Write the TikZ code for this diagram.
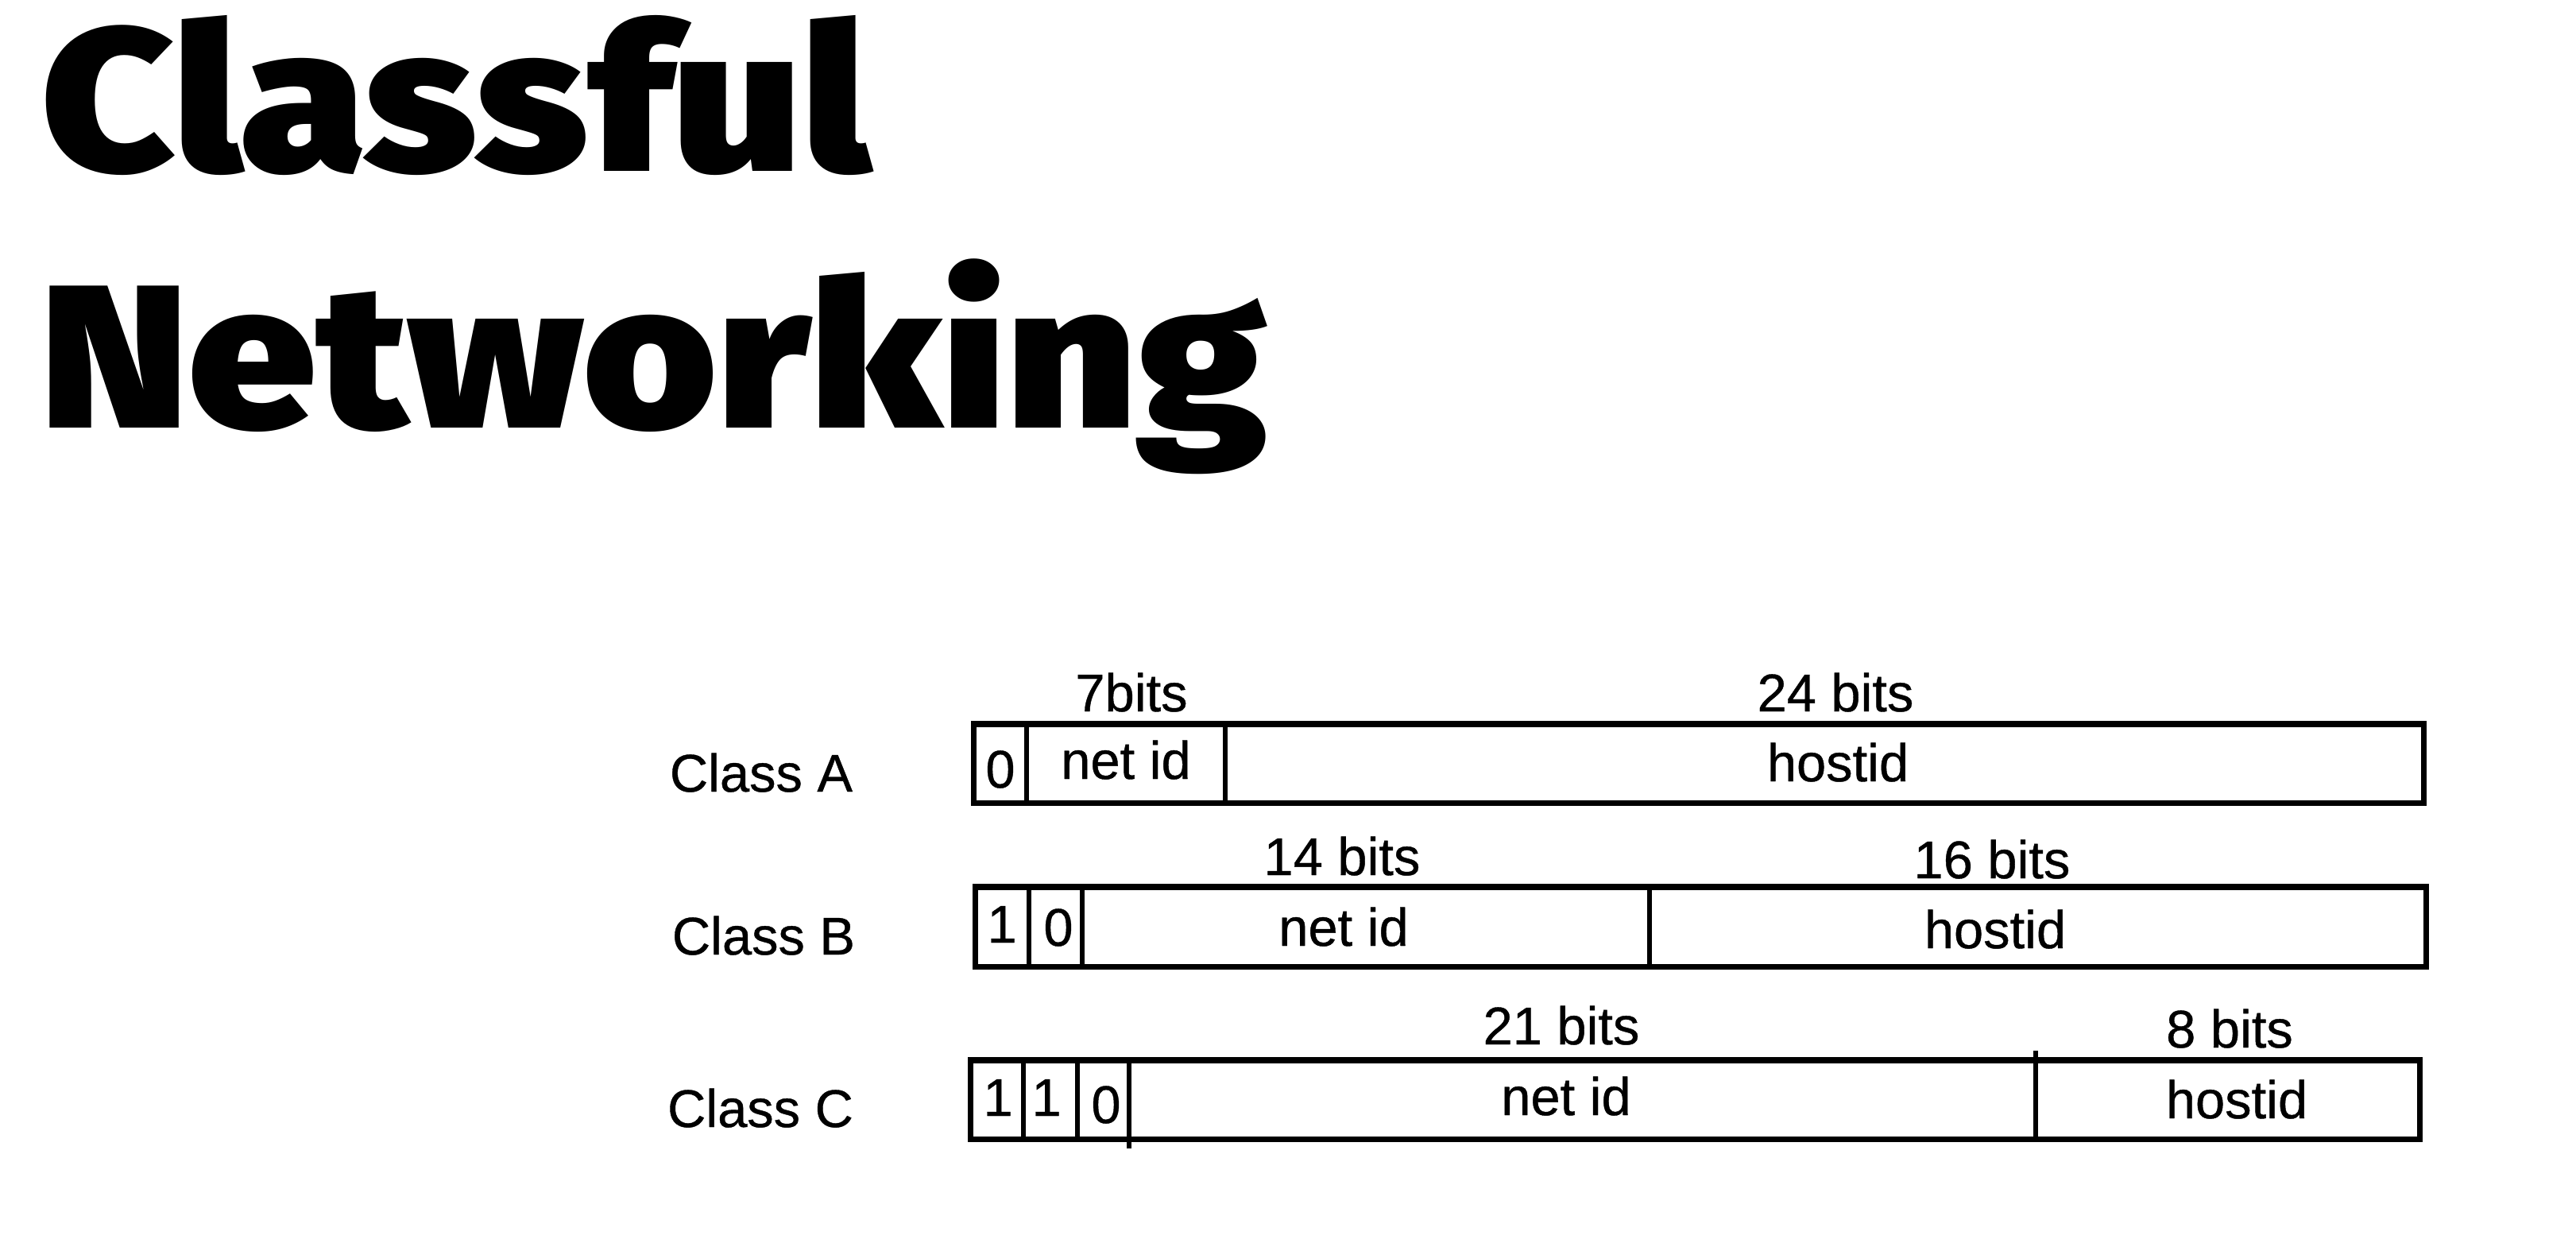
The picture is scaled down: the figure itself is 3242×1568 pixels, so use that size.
\documentclass[tikz,border=0pt]{standalone}
\usepackage{fontspec}
\setmainfont{Liberation Sans}
\newfontfamily\labelfont{Liberation Sans}[FakeBold=0.6]
\newfontfamily\headfont{Fira Sans Black}[FakeStretch=1.12]

\tikzset{
  frame/.style={draw, line width=2pt, inner sep=0pt, minimum height=0.99cm},
  divider/.style={line width=1.6pt},
  field/.style={anchor=base, inner sep=0pt, font=\labelfont\fontsize{19}{22}\selectfont},
  headline/.style={anchor=base west, inner sep=0pt, font=\headfont\fontsize{73}{80}\selectfont},
}

\begin{document}
\begin{tikzpicture}[x=0.01cm, y=-0.01cm]
    \useasboundingbox (0,0) rectangle (3242,1568);

    % Title
    \node[headline] (title1) at (52, 215) {Classful};
    \node[headline] (title2) at (50, 538) {Networking};

    % Class A
    \node[field] (nameA) at (958, 996) {Class A};
    \node[frame, minimum width=18.24cm] (rowA) at (2138, 960.5) {};
    \draw[divider] (1292,0 |- rowA.north) -- (1292,0 |- rowA.south);
    \draw[divider] (1542,0 |- rowA.north) -- (1542,0 |- rowA.south);
    \node[field] (a0) at (1259, 991) {0};
    \node[field] (anet) at (1417, 980) {net id};
    \node[field] (ahost) at (2313, 983) {hostid};
    \node[field] (abitsnet) at (1424, 895) {7bits};
    \node[field] (abitshost) at (2310, 895) {24 bits};

    % Class B
    \node[field] (nameB) at (961, 1201) {Class B};
    \node[frame, minimum width=18.25cm, minimum height=1cm] (rowB) at (2140.5, 1166) {};
    \draw[divider] (1295,0 |- rowB.north) -- (1295,0 |- rowB.south);
    \draw[divider] (1362,0 |- rowB.north) -- (1362,0 |- rowB.south);
    \draw[divider] (2076,0 |- rowB.north) -- (2076,0 |- rowB.south);
    \node[field] (b1) at (1261, 1186) {1};
    \node[field] (b0) at (1332, 1190) {0};
    \node[field] (bnet) at (1691, 1190) {net id};
    \node[field] (bhost) at (2511, 1193) {hostid};
    \node[field] (bbitsnet) at (1689, 1101) {14 bits};
    \node[field] (bbitshost) at (2507, 1105) {16 bits};

    % Class C
    \node[field] (nameC) at (957, 1418) {Class C};
    \node[frame, minimum width=18.23cm] (rowC) at (2133.5, 1383.5) {};
    \draw[divider] (1288,0 |- rowC.north) -- (1288,0 |- rowC.south);
    \draw[divider] (1356,0 |- rowC.north) -- (1356,0 |- rowC.south);
    \draw[divider, shorten >=-0.08cm] (1421,0 |- rowC.north) -- (1421,0 |- rowC.south);
    \draw[divider, shorten <=-0.08cm] (2562,0 |- rowC.north) -- (2562,0 |- rowC.south);
    \node[field] (c1) at (1256, 1404) {1};
    \node[field] (c2) at (1317, 1404) {1};
    \node[field] (c0) at (1392, 1413) {0};
    \node[field] (cnet) at (1971, 1403) {net id};
    \node[field] (chost) at (2815, 1407) {hostid};
    \node[field] (cbitsnet) at (1965, 1314) {21 bits};
    \node[field] (cbitshost) at (2806, 1318) {8 bits};
\end{tikzpicture}
\end{document}
